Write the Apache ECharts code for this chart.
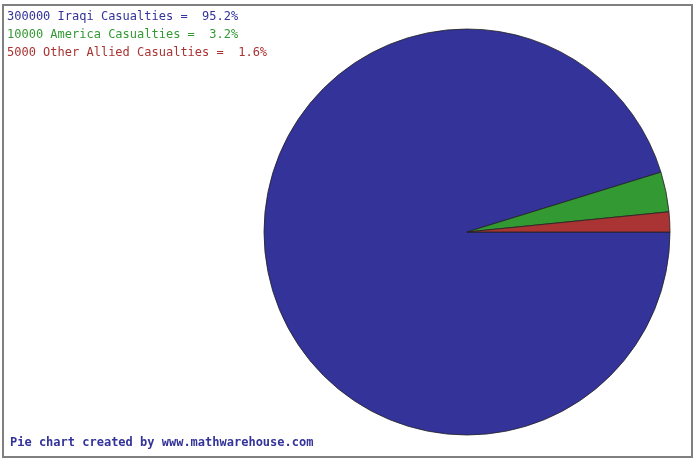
<!DOCTYPE html>
<html>
<head>
<meta charset="utf-8">
<script src="https://cdn.jsdelivr.net/npm/echarts@6/dist/echarts.min.js"></script>
<style>html,body{margin:0;padding:0;background:#fff}#c{width:700px;height:465px}</style>
</head>
<body>
<div id="c"></div>
<script>
var categories = ['Iraqi Casualties', 'America Casualties', 'Other Allied Casualties'];
var values = [300000, 10000, 5000];
var percentLabels = ['95.2%', '3.2%', '1.6%'];
var colors = ['#333399', '#339933', '#aa3333'];
var footer = 'Pie chart created by www.mathwarehouse.com';

var chart = echarts.init(document.getElementById('c'));
var texts = categories.map(function (c, i) {
  return {
    type: 'text', left: 7, top: 11 + i * 18,
    style: {
      text: values[i] + ' ' + c + ' =  ' + percentLabels[i],
      fill: colors[i], font: '12px "DejaVu Sans Mono", monospace'
    }
  };
});
texts.push({
  type: 'text', left: 10, top: 437,
  style: { text: footer, fill: '#333399', font: 'bold 12px "DejaVu Sans Mono", monospace' }
});
texts.push({
  type: 'rect', shape: { x: 3, y: 5, width: 689, height: 452 },
  style: { fill: 'none', stroke: '#808080', lineWidth: 2 }, z: -1
});

chart.setOption({
  animation: false,
  graphic: texts,
  series: [{
    type: 'pie',
    center: [467, 232],
    radius: [0, 203],
    startAngle: 0,
    clockwise: true,
    label: { show: false },
    labelLine: { show: false },
    itemStyle: { borderColor: '#222', borderWidth: 0.8 },
    data: categories.map(function (c, i) {
      return { name: c, value: values[i], itemStyle: { color: colors[i] } };
    })
  }]
});
</script>
</body>
</html>
